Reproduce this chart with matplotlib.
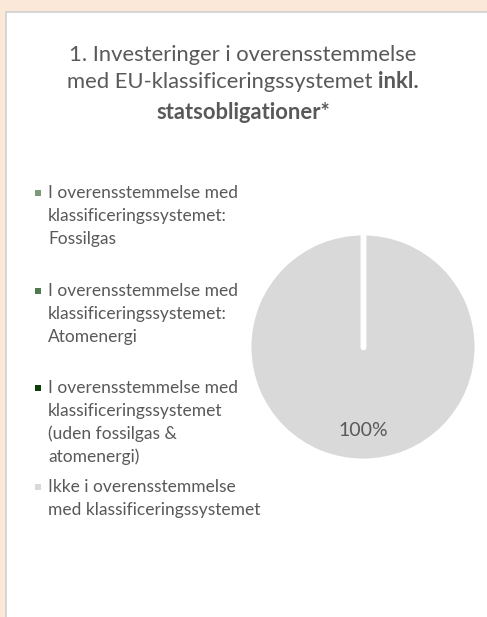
import numpy as np
import matplotlib.pyplot as plt
from matplotlib.patches import Rectangle

# data
labels = ["I overensstemmelse med\nklassificeringssystemet:\nFossilgas",
          "I overensstemmelse med\nklassificeringssystemet:\nAtomenergi",
          "I overensstemmelse med\nklassificeringssystemet\n(uden fossilgas &\natomenergi)",
          "Ikke i overensstemmelse\nmed klassificeringssystemet"]
values = [0, 0, 0, 100]
colors = ["#7a9a7a", "#4e7a4e", "#0b400b", "#d9d9d9"]

W, H = 487, 617
plt.rcParams['font.family'] = ['Lato', 'DejaVu Sans']
txt = "#595959"

fig = plt.figure(figsize=(W / 100, H / 100), dpi=100)
fig.patch.set_facecolor("#fbe8d8")
fig.patches.append(Rectangle((6 / W, -0.01), 1.0, 1 - 12 / H + 0.01, transform=fig.transFigure,
                             facecolor="white", edgecolor="#d0d0d0", linewidth=1.2, zorder=-5))

def fy(py):
    return 1 - py / H

# title
tsize = 15.8
fig.text(243 / W, fy(55), "1. Investeringer i overensstemmelse", ha='center', va='center',
         fontsize=tsize, color=txt)
fig.canvas.draw()
r = fig.canvas.get_renderer()
a = fig.text(0, 0, "med EU-klassificeringssystemet ", fontsize=tsize, color=txt)
b = fig.text(0, 0, "inkl.", fontsize=tsize, color=txt, fontweight='bold')
wa = a.get_window_extent(r).width
wb = b.get_window_extent(r).width
x0 = 243 - (wa + wb) / 2
a.set_position((x0 / W, fy(82)))
a.set_va('center')
b.set_position(((x0 + wa) / W, fy(82)))
b.set_va('center')
fig.text(243 / W, fy(112), "statsobligationer*", ha='center', va='center',
         fontsize=tsize, color=txt, fontweight='bold')

# legend
entry_y = [193, 291, 388, 487]
for lab, col, y in zip(labels, colors, entry_y):
    fig.patches.append(Rectangle((35 / W, fy(y + 3)), 6 / W, 6 / H, transform=fig.transFigure,
                                 facecolor=col, edgecolor='none'))
    for i, line in enumerate(lab.split("\n")):
        fig.text(48 / W, fy(y + 23 * i), line, ha='left', va='center',
                 fontsize=12.5, color=txt)

# pie
cx, cy, rad = 363, 347, 114
ax = fig.add_axes([(cx - rad) / W, (H - cy - rad) / H, 2 * rad / W, 2 * rad / H])
wedges, _, _ = ax.pie(values, colors=colors, startangle=90, counterclock=False,
                      autopct=lambda p: f"{p:.0f}%" if p > 0 else "", pctdistance=0.73,
                      wedgeprops=dict(edgecolor="white", linewidth=3.5),
                      textprops=dict(color=txt, fontsize=14))
# slice borders (full-circle wedge has no radial edge)
for w in wedges:
    t = np.deg2rad(w.theta1)
    ax.plot([0, np.cos(t)], [0, np.sin(t)], color="white", lw=3.8,
            solid_capstyle='round', zorder=3)
ax.set_xlim(-1, 1)
ax.set_ylim(-1, 1)
ax.set_aspect('auto')

fig.savefig("out.png", dpi=100)
